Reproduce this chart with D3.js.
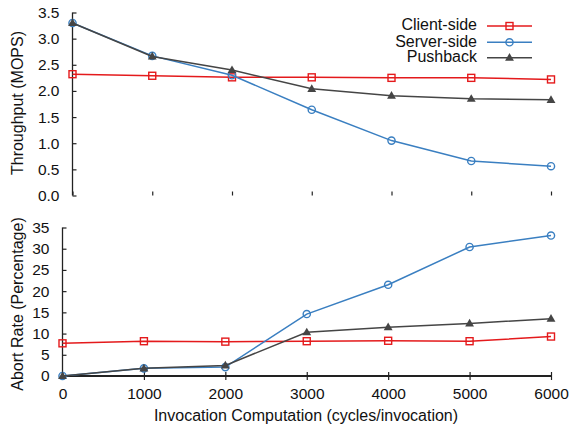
<!DOCTYPE html>
<html><head><meta charset="utf-8">
<script src="https://cdn.jsdelivr.net/npm/d3@7"></script>
<style>body{margin:0;background:#fff}svg{display:block}text{font-family:"Liberation Sans",Arial,sans-serif;fill:#111}</style>
</head><body><svg id="c" width="569" height="429"></svg>
<script>
const xValues = [0, 1000, 2000, 3000, 4000, 5000, 6000];
const seriesNames = ["Client-side", "Server-side", "Pushback"];
const throughputClient = [2.32, 2.29, 2.26, 2.26, 2.25, 2.25, 2.22];
const throughputServer = [3.30, 2.67, 2.30, 1.64, 1.05, 0.66, 0.56];
const throughputPush = [3.30, 2.66, 2.40, 2.04, 1.91, 1.85, 1.83];
const abortClient = [7.7, 8.2, 8.1, 8.2, 8.3, 8.2, 9.3];
const abortServer = [0.0, 1.8, 2.1, 14.6, 21.5, 30.4, 33.1];
const abortPush = [0.0, 1.8, 2.5, 10.3, 11.5, 12.4, 13.5];
const topTicks = [0, 0.5, 1.0, 1.5, 2.0, 2.5, 3.0, 3.5];
const bottomTicks = [0, 5, 10, 15, 20, 25, 30, 35];
const xTicks = [0, 1000, 2000, 3000, 4000, 5000, 6000];

const colors = ["#e41a1c", "#3a7fc1", "#454545"];
const markers = ["square", "circle", "triangle"];
const svg = d3.select("#c");
const tickFont = 15.5, titleFont = 16;

function marker(g, type, x, y, color) {
  if (type === "square") {
    g.append("rect").attr("x", x - 3.5).attr("y", y - 3.5).attr("width", 7).attr("height", 7)
      .attr("fill", "none").attr("stroke", color).attr("stroke-width", 1.4);
  } else if (type === "circle") {
    g.append("circle").attr("cx", x).attr("cy", y).attr("r", 3.6)
      .attr("fill", "none").attr("stroke", color).attr("stroke-width", 1.4);
  } else {
    g.append("path").attr("d", d3.symbol(d3.symbolTriangle, 34)())
      .attr("transform", `translate(${x},${y + 0.5})`).attr("fill", color);
  }
}

function panel(opts) {
  const x = d3.scaleLinear().domain([0, 6000]).range([opts.left, 551]);
  const y = d3.scaleLinear().domain(opts.ydomain).range([opts.bottom, opts.top]);
  const g = svg.append("g");
  const ay = g.append("g").attr("transform", `translate(${opts.left},0)`)
    .call(d3.axisLeft(y).tickValues(opts.yticks).tickSize(-4).tickPadding(13).tickFormat(opts.fmt));
  ay.select(".domain").attr("stroke", "#222").attr("stroke-width", 1.3).attr("d", `M-0,${opts.top}V${opts.bottom}`);
  ay.selectAll(".tick line").attr("stroke", "#222").attr("stroke-width", 1.2);
  ay.selectAll(".tick text").attr("font-size", tickFont).attr("font-family", "Liberation Sans, Arial, sans-serif").attr("fill", "#111");
  const ax = g.append("g").attr("transform", `translate(0,${opts.bottom})`)
    .call(d3.axisBottom(x).tickValues(xTicks).tickSize(opts.showX ? 4 : -4).tickPadding(8).tickFormat(opts.showX ? d3.format("d") : () => ""));
  if (opts.showX) {
    ax.select(".domain").attr("stroke", "#222").attr("stroke-width", 2).attr("d", `M${opts.left},0H551`);
    ax.selectAll(".tick line").attr("y1", -4).attr("y2", 4).attr("stroke", "#222").attr("stroke-width", 1.2);
    ax.selectAll(".tick text").attr("font-size", tickFont).attr("font-family", "Liberation Sans, Arial, sans-serif").attr("fill", "#111");
  } else {
    ax.select(".domain").remove();
    ax.selectAll(".tick line").attr("stroke", "#222").attr("stroke-width", 1.2);
  }
  opts.series.forEach((vals, i) => {
    const line = d3.line().x((d, j) => x(xValues[j])).y(d => y(d));
    g.append("path").datum(vals).attr("d", line).attr("fill", "none")
      .attr("stroke", colors[i]).attr("stroke-width", 1.5);
    vals.forEach((v, j) => marker(g, markers[i], x(xValues[j]), y(v), colors[i]));
  });
  g.append("text").attr("transform", `translate(19,${opts.titleY}) rotate(-90)`)
    .attr("text-anchor", "middle").attr("dominant-baseline", "middle").attr("font-size", titleFont)
    .text(opts.title);
}

panel({left: 72.5, top: 12.5, bottom: 195.5, ydomain: [0, 3.5], yticks: topTicks, fmt: d3.format(".1f"),
  series: [throughputClient, throughputServer, throughputPush], showX: false,
  title: "Throughput (MOPS)", titleY: 103});
panel({left: 62.5, top: 227.5, bottom: 376, ydomain: [0, 35], yticks: bottomTicks, fmt: d3.format("d"),
  series: [abortClient, abortServer, abortPush], showX: true,
  title: "Abort Rate (Percentage)", titleY: 304});

svg.append("text").attr("x", 306).attr("y", 421).attr("text-anchor", "middle").attr("font-size", titleFont)
  .text("Invocation Computation (cycles/invocation)");

const legY = [26, 42.3, 57.7];
seriesNames.forEach((name, i) => {
  svg.append("text").attr("x", 477).attr("y", legY[i]).attr("text-anchor", "end")
    .attr("dominant-baseline", "middle").attr("font-size", titleFont).text(name);
  svg.append("line").attr("x1", 487).attr("x2", 532).attr("y1", legY[i]).attr("y2", legY[i])
    .attr("stroke", colors[i]).attr("stroke-width", 1.5);
  marker(svg, markers[i], 509.5, legY[i], colors[i]);
});
</script></body></html>
